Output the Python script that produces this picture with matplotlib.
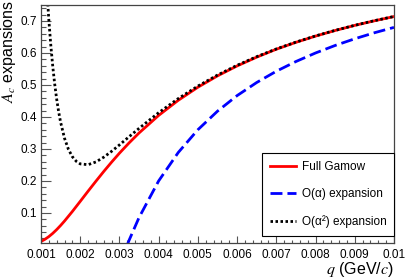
import matplotlib
matplotlib.use("Agg")
import matplotlib.pyplot as plt
from matplotlib.ticker import FixedLocator, MultipleLocator

plt.rcParams['font.family'] = ['Liberation Sans', 'DejaVu Sans']
plt.rcParams['mathtext.fontset'] = 'stix'

# q values (GeV/c) and curve values
q_full = [0.0010, 0.0011, 0.0012, 0.0013, 0.0014, 0.0015, 0.0016, 0.0018,
          0.0020, 0.0022, 0.0024, 0.0026, 0.0028, 0.0030, 0.00325, 0.0035,
          0.0040, 0.0045, 0.0050, 0.0055, 0.0060, 0.0065, 0.0070, 0.0075,
          0.0080, 0.0085, 0.0090, 0.0095, 0.0100]
a_full = [0.0107, 0.0174, 0.0259, 0.0361, 0.0478, 0.0607, 0.0746, 0.1045,
          0.1360, 0.1678, 0.1990, 0.2295, 0.2587, 0.2867, 0.3194, 0.3499,
          0.4048, 0.4521, 0.4929, 0.5284, 0.5595, 0.5870, 0.6118, 0.6333,
          0.6528, 0.6703, 0.6863, 0.7006, 0.7139]

q_o1 = [0.0032, 0.00325, 0.0035, 0.0040, 0.0045, 0.0050, 0.0055, 0.0060,
        0.0065, 0.0070, 0.0075, 0.0080, 0.0085, 0.0090, 0.0095, 0.0100]
a_o1 = [0.0, 0.0155, 0.0855, 0.2000, 0.2889, 0.3600, 0.4180, 0.4667,
        0.5077, 0.5429, 0.5733, 0.6000, 0.6235, 0.6444, 0.6632, 0.6800]

q_o2 = [0.0010, 0.0011, 0.00115, 0.0012, 0.00125, 0.0013, 0.00135, 0.0014,
        0.00145, 0.0015, 0.0016, 0.0017, 0.0018, 0.0019, 0.0020, 0.0022,
        0.0024, 0.0026, 0.0028, 0.0030, 0.00325, 0.0035, 0.0040, 0.0045,
        0.0050, 0.0055, 0.0060, 0.0065, 0.0070, 0.0075, 0.0080, 0.0085,
        0.0090, 0.0095, 0.0100]
a_o2 = [1.2133, 0.9120, 0.7980, 0.7037, 0.6245, 0.5582, 0.5024, 0.4558,
        0.4165, 0.3837, 0.3333, 0.2986, 0.2757, 0.2613, 0.2533, 0.2507,
        0.2593, 0.2742, 0.2925, 0.3126, 0.3386, 0.3643, 0.4133, 0.4575,
        0.4965, 0.5310, 0.5615, 0.5885, 0.6126, 0.6340, 0.6533, 0.6707,
        0.6865, 0.7010, 0.7141]

labels = ["Full Gamow", "O(\u03b1) expansion", "O(\u03b1\u00b2) expansion"]
x_ticks = [0.001, 0.002, 0.003, 0.004, 0.005, 0.006, 0.007, 0.008, 0.009, 0.01]
x_ticklabels = ["0.001", "0.002", "0.003", "0.004", "0.005", "0.006",
                "0.007", "0.008", "0.009", "0.01"]
y_ticks = [0.1, 0.2, 0.3, 0.4, 0.5, 0.6, 0.7]
y_ticklabels = ["0.1", "0.2", "0.3", "0.4", "0.5", "0.6", "0.7"]

fig = plt.figure(figsize=(4.07, 2.78), dpi=100)
ax = fig.add_axes([0.1007, 0.126, 0.8673, 0.856])

ax.plot(q_full, a_full, color='#ff0000', lw=2.0, label=labels[0])
ax.plot(q_o1, a_o1, color='#0000ff', lw=2.0, dashes=(4.3, 1.8), label=labels[1])
ax.plot(q_o2, a_o2, color='black', lw=2.0, dashes=(0.9, 0.9), label=labels[2])

ax.set_xlim(0.001, 0.01)
ax.set_ylim(0.006, 0.75)

ax.xaxis.set_major_locator(FixedLocator(x_ticks))
ax.set_xticklabels(x_ticklabels)
ax.xaxis.set_minor_locator(MultipleLocator(0.0002))
ax.yaxis.set_major_locator(FixedLocator(y_ticks))
ax.set_yticklabels(y_ticklabels)
ax.yaxis.set_minor_locator(MultipleLocator(0.02))

ax.tick_params(axis='both', which='both', direction='in', top=False, right=False,
               labelsize=8.5, color='#555555', width=0.8)
ax.tick_params(axis='x', which='major', length=5, pad=4)
ax.tick_params(axis='x', which='minor', length=2.5)
ax.tick_params(axis='y', which='major', length=7.5, pad=3)
ax.tick_params(axis='y', which='minor', length=3.5)
for s in ax.spines.values():
    s.set_color('#444444')
    s.set_linewidth(0.9)

ax.set_xlabel("$q$ (GeV/$c$)", fontsize=11.5, loc='right')
ax.xaxis.set_label_coords(1.0, -0.07)
ax.set_ylabel("$A_c$ expansions", fontsize=11.5, loc='top')
ax.yaxis.set_label_coords(-0.064, 1.02)

leg = ax.legend(loc='lower left', bbox_to_anchor=(0.626, 0.029, 0.374, 0.341),
                mode='expand', borderaxespad=0, fontsize=8.5, fancybox=False,
                edgecolor='black', framealpha=1, labelspacing=1.25,
                handlelength=2.2, handletextpad=0.5, borderpad=0.7)
leg.get_frame().set_linewidth(0.8)

fig.savefig("out.png", dpi=100)
